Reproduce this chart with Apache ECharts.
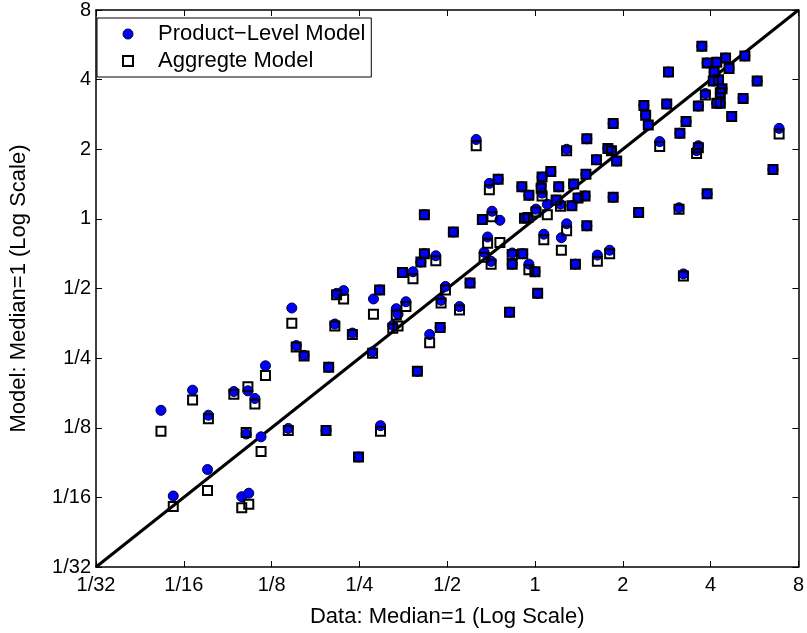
<!DOCTYPE html>
<html>
<head>
<meta charset="utf-8">
<script src="https://cdn.jsdelivr.net/npm/echarts@6/dist/echarts.min.js"></script>
<style>
html,body{margin:0;padding:0;background:#fff;}
#chart{width:807px;height:633px;}
</style>
</head>
<body>
<div id="chart"></div>
<script>
// All values are log2 of the ratio to the median (the chart uses log-2 axes).
var tickLabels = ['1/32','1/16','1/8','1/4','1/2','1','2','4','8'];
var axisMinLog2 = -5;
var axisMaxLog2 = 3;

// x: Data (log2)
var dataLog2 = [
 -3.07,-3.90,-3.43,-3.27,-3.19,-4.26,-3.72,-3.29,-3.12,-2.81,
 -3.73,-4.12,-3.34,-3.26,-1.30,-1.26,-1.13,-1.51,-1.39,-1.02,
 -0.74,-1.77,-2.18,-2.26,-1.84,-1.47,-1.07,-0.86,-2.77,-1.58,
 -1.56,-1.62,-2.28,-2.08,-1.08,-1.20,-2.72,-2.63,-1.85,-2.35,
 -1.34,-2.38,-1.76,-2.01,-0.67,-0.52,-0.42,-0.15, 0.08, 0.18,
  0.07, 0.08,-0.07, 0.27, 0.24, 0.14, 0.01,-0.12,-0.08,-1.26,
 -0.49,-0.60,-0.40,-0.93,-0.54, 0.10, 0.30,-0.58,-0.50,-0.26,
 -0.14,-0.26,-0.07, 0.00, 0.03,-0.29, 0.89, 1.29, 0.59, 1.42,
  0.36, 0.83, 0.87, 0.70, 0.93, 0.58, 0.44, 0.57, 0.29, 0.42,
  0.49, 0.89, 1.18, 0.36, 0.59, 0.46, 0.71, 0.85, 1.90, 2.39,
  2.17, 1.96, 2.07, 2.21, 1.52, 2.04, 2.09, 2.03, 2.53, 2.13,
  2.11, 1.94, 2.37, 1.24, 1.50, 1.86, 2.07, 2.11, 1.26, 2.24,
  1.72, 1.65, 2.78, 1.86, 1.84, 2.71, 1.96, 1.64, 1.69
];
// y: Product-Level Model (log2)
var productLog2 = [
 -2.11,-2.46,-2.48,-2.47,-2.58,-2.75,-2.82,-3.09,-3.13,-3.01,
 -3.60,-3.98,-3.99,-3.94,-0.62,-0.50,-0.53,-0.77,-0.76,-0.97,
 -0.92,-1.02,-1.03,-1.07,-1.15,-1.19,-1.17,-1.26,-1.28,-1.29,
 -1.37,-1.53,-1.51,-1.64,-1.56,-1.66,-1.82,-1.96,-1.91,-2.13,
 -2.19,-3.04,-2.97,-3.42, 1.14, 0.51, 0.57, 0.46, 0.60, 0.68,
  0.48, 0.37, 0.34, 0.46, 0.27, 0.21, 0.14, 0.01, 0.02, 0.06,
  0.11,-0.01,-0.02,-0.19,-0.26,-0.22,-0.27,-0.48,-0.61,-0.49,
 -0.50,-0.65,-0.65,-0.76,-1.07,-1.34, 1.37, 1.35, 1.15, 1.11,
  1.00, 1.01, 0.98, 0.85, 0.83, 0.64, 0.50, 0.33, 0.21, 0.19,
  0.30, 0.31, 0.09,-0.07,-0.10,-0.65,-0.52,-0.45, 2.48, 2.34,
  2.31, 2.24, 2.25, 2.16, 2.11, 2.11, 2.00, 1.98, 1.98, 1.87,
  1.81, 1.80, 1.73, 1.63, 1.65, 1.62, 1.66, 1.66, 1.49, 1.47,
  1.40, 1.23, 1.30, 1.05, 0.98, 0.71, 0.36, 0.16,-0.79
];
// y: Aggregate Model (log2)
var aggregateLog2 = [
 -2.25,-2.60,-2.52,-2.41,-2.66,-3.05,-2.87,-3.07,-3.34,-3.04,
 -3.90,-4.13,-4.15,-4.10,-0.62,-0.50,-0.60,-0.77,-0.86,-1.02,
 -0.92,-1.02,-1.15,-1.09,-1.37,-1.26,-1.21,-1.31,-1.50,-1.38,
 -1.54,-1.57,-1.54,-1.66,-1.56,-1.78,-1.84,-1.97,-1.93,-2.13,
 -2.19,-3.04,-3.05,-3.42, 1.05, 0.42, 0.57, 0.46, 0.60, 0.68,
  0.44, 0.33, 0.34, 0.46, 0.27, 0.06, 0.10, 0.01, 0.02, 0.06,
  0.03,-0.01,-0.34,-0.19,-0.35,-0.30,-0.45,-0.55,-0.65,-0.51,
 -0.50,-0.65,-0.73,-0.76,-1.07,-1.34, 1.37, 1.35, 1.15, 1.04,
  0.98, 1.01, 0.98, 0.85, 0.83, 0.64, 0.50, 0.33, 0.18, 0.19,
  0.30, 0.31, 0.09,-0.17,-0.10,-0.65,-0.61,-0.50, 2.48, 2.34,
  2.31, 2.24, 2.25, 2.16, 2.11, 2.11, 2.00, 1.98, 1.98, 1.87,
  1.81, 1.78, 1.73, 1.63, 1.65, 1.62, 1.66, 1.66, 1.49, 1.47,
  1.40, 1.23, 1.22, 1.02, 0.94, 0.71, 0.36, 0.14,-0.82
];

var productData = dataLog2.map(function(x, i){ return [x, productLog2[i]]; });
var aggregateData = dataLog2.map(function(x, i){ return [x, aggregateLog2[i]]; });
var diagonal = [[axisMinLog2, axisMinLog2], [axisMaxLog2, axisMaxLog2]];

function fmt(v){ var i = Math.round(v - axisMinLog2); return tickLabels[i] || ''; }

var FONT = 'Liberation Sans, Arial, Helvetica, sans-serif';
var axisLineStyle = {color:'#000', width:1.5};

var chart = echarts.init(document.getElementById('chart'), null, {renderer:'canvas'});
chart.setOption({
  animation:false,
  backgroundColor:'#fff',
  textStyle:{fontFamily:FONT, color:'#000'},
  grid:{left:86, right:6, top:10, bottom:61, containLabel:false},
  legend:{
    orient:'vertical', left:97, top:18,
    itemWidth:10, itemHeight:10, itemGap:3,
    padding:[4,6,4,25],
    borderColor:'#000', borderWidth:1, backgroundColor:'#fff',
    textStyle:{fontSize:22, fontFamily:FONT, color:'#000', lineHeight:24, padding:[0,0,0,20]},
    data:[
      {name:'Product\u2212Level Model', icon:'circle', itemStyle:{color:'#0000ff', borderColor:'#000033', borderWidth:1}},
      {name:'Aggregte Model', icon:'rect', itemStyle:{color:'rgba(0,0,0,0)', borderColor:'#000', borderWidth:2}}
    ]
  },
  xAxis:[{
    type:'value', min:axisMinLog2, max:axisMaxLog2, interval:1,
    name:'Data: Median=1 (Log Scale)', nameLocation:'middle', nameGap:39,
    nameTextStyle:{fontSize:22, fontFamily:FONT, color:'#000'},
    axisLine:{show:true, onZero:false, lineStyle:axisLineStyle},
    axisTick:{show:true, inside:true, length:6, lineStyle:{color:'#000', width:1}},
    axisLabel:{formatter:fmt, fontSize:20, fontFamily:FONT, color:'#000', margin:8},
    splitLine:{show:false}
  },{
    type:'value', position:'top', min:axisMinLog2, max:axisMaxLog2, interval:1,
    axisLine:{show:true, onZero:false, lineStyle:axisLineStyle},
    axisTick:{show:true, inside:true, length:6, lineStyle:{color:'#000', width:1}},
    axisLabel:{show:false}, splitLine:{show:false}
  }],
  yAxis:[{
    type:'value', min:axisMinLog2, max:axisMaxLog2, interval:1,
    name:'Model: Median=1 (Log Scale)', nameLocation:'middle', nameGap:66,
    nameTextStyle:{fontSize:22, fontFamily:FONT, color:'#000'},
    axisLine:{show:true, onZero:false, lineStyle:axisLineStyle},
    axisTick:{show:true, inside:true, length:6, lineStyle:{color:'#000', width:1}},
    axisLabel:{formatter:fmt, fontSize:20, fontFamily:FONT, color:'#000', margin:5},
    splitLine:{show:false}
  },{
    type:'value', position:'right', min:axisMinLog2, max:axisMaxLog2, interval:1,
    axisLine:{show:true, onZero:false, lineStyle:axisLineStyle},
    axisTick:{show:true, inside:true, length:6, lineStyle:{color:'#000', width:1}},
    axisLabel:{show:false}, splitLine:{show:false}
  }],
  series:[
    {type:'line', data:diagonal, symbol:'none', silent:true, z:1,
     lineStyle:{color:'#000', width:3}},
    {name:'Product\u2212Level Model', type:'scatter', data:productData, z:2,
     symbol:'circle', symbolSize:10,
     itemStyle:{color:'#0000ff', borderColor:'#000033', borderWidth:1, opacity:1}},
    {name:'Aggregte Model', type:'scatter', data:aggregateData, z:3,
     symbol:'rect', symbolSize:9,
     itemStyle:{color:'rgba(0,0,0,0)', borderColor:'#000', borderWidth:2, opacity:1}}
  ]
});
</script>
</body>
</html>
